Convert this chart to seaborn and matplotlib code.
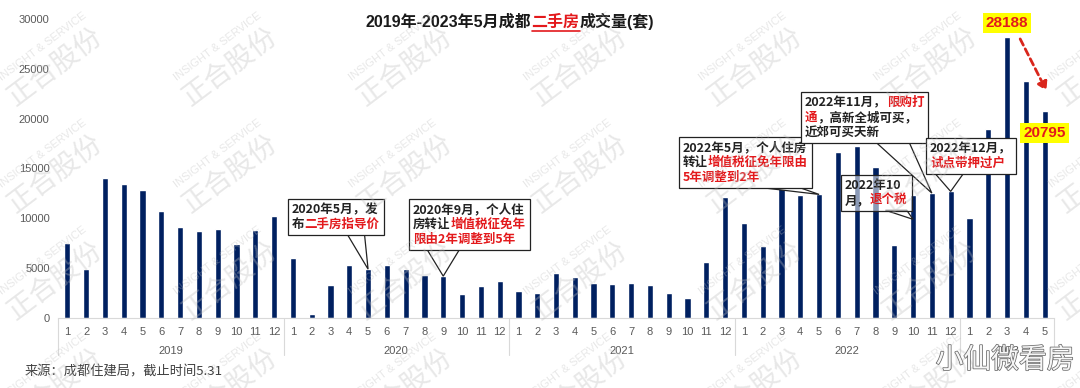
import seaborn as sns
import pandas as pd
import matplotlib.pyplot as plt
from matplotlib.lines import Line2D
from matplotlib.patches import Polygon
from matplotlib.transforms import IdentityTransform
from matplotlib.offsetbox import TextArea, HPacker, VPacker, AnnotationBbox
import matplotlib.patheffects as pe

# monthly second-hand housing transactions in Chengdu (sets)
years = ["2019", "2020", "2021", "2022", "2023"]
vol_2019 = [7500, 4950, 14050, 13400, 12870, 10700, 9100, 8700, 8970, 7470, 8870, 10270]
vol_2020 = [6070, 430, 3270, 5300, 4900, 5270, 4870, 4270, 4200, 2430, 3200, 3670]
vol_2021 = [2730, 2470, 4470, 4100, 3470, 3400, 3470, 3330, 2530, 2030, 5600, 12150]
vol_2022 = [9570, 7230, 13800, 12330, 12400, 16630, 17230, 15130, 7330, 12370, 12530, 12700]
vol_2023 = [10070, 18970, 28188, 23730, 20795]
volumes = [vol_2019, vol_2020, vol_2021, vol_2022, vol_2023]

rows = []
for year, vals in zip(years, volumes):
    for m, v in enumerate(vals, start=1):
        rows.append({"key": f"{year}-{m}", "year": year, "month": str(m), "vol": v})
df = pd.DataFrame(rows)

NAVY = "#002060"
RED = "#e3191c"
GREY = "#595959"
K = "#222222"

sns.set_style("white")
plt.rcParams["font.family"] = ["Liberation Sans", "Noto Sans CJK SC", "DejaVu Sans"]
CJK = ["Noto Sans CJK SC", "DejaVu Sans"]

W, H = 1080, 388
fig = plt.figure(figsize=(W / 100, H / 100), dpi=100)
ax = fig.add_axes([58 / W, 70 / H, 996 / W, 299 / H])

sns.barplot(data=df, x="key", y="vol", color=NAVY, saturation=1, width=0.33, ax=ax)

ax.set_ylim(0, 30000)
ax.set_xlim(-0.5, len(df) - 0.5)
ax.set_yticks(range(0, 30001, 5000))
ax.set_xticks(range(len(df)))
ax.set_xticklabels(df["month"])
ax.tick_params(axis="both", length=0, labelsize=8, labelcolor=GREY)
ax.tick_params(axis="x", pad=6.5)
ax.tick_params(axis="y", pad=6)
ax.set_xlabel("")
ax.set_ylabel("")
sns.despine(ax=ax, left=True)
ax.spines["bottom"].set_color("#d9d9d9")

# year level of the category axis
start = 0
for year, vals in zip(years, volumes):
    end = start + len(vals)
    ax.annotate(year, xy=((start + end - 1) / 2, 0), xycoords=("data", "axes fraction"),
                xytext=(0, -23.5), textcoords="offset points", ha="center", va="center",
                fontsize=8, color=GREY)
    start = end
bounds = [-0.5]
for vals in volumes:
    bounds.append(bounds[-1] + len(vals))
for b in bounds:
    ax.plot([b, b], [0, -0.124], transform=ax.get_xaxis_transform(), color="#d9d9d9",
            lw=0.8, clip_on=False)


callouts = []


def callout(lines, idx, val, left, top, base, alpha=1.0):
    packs = []
    for line in lines:
        parts = [TextArea(t, textprops=dict(color=c, fontsize=9, fontweight="bold",
                                            family=CJK)) for t, c in line]
        packs.append(HPacker(children=parts, sep=0, pad=0, align="baseline"))
    box = VPacker(children=packs, sep=1.5, pad=0, align="left")
    ab = AnnotationBbox(box, (idx, val), xycoords="data", xybox=(left, H - top),
                        boxcoords="figure pixels", box_alignment=(0, 1), pad=0.3,
                        bboxprops=dict(fc=(1, 1, 1, alpha), ec=K, lw=0.9))
    ab.set_zorder(5)
    ax.add_artist(ab)
    callouts.append((ab, idx, val, base, alpha))


callout([[("2020年5月，发", K)], [("布", K), ("二手房指导价", RED)]],
        16, vol_2020[4], 292, 203, (0.62, 0.8))
callout([[("2020年9月，个人住", K)], [("房转让", K), ("增值税征免年", RED)],
         [("限由2年调整到5年", RED)]],
        20, vol_2020[8], 413, 203, (0.15, 0.42))
callout([[("2022年5月，个人住房", K)], [("转让", K), ("增值税征免年限由", RED)],
         [("5年调整到2年", RED)]],
        40, vol_2022[4], 683, 141, (0.6, 0.9))
callout([[("2022年11月，", K), ("限购打", RED)], [("通", RED), ("，高新全城可买，", K)],
         [("近郊可买天新", K)]],
        46, vol_2022[10], 805, 96, (0.59, 0.85))
callout([[("2022年12月，", K)], [("试点带押过户", RED)]],
        47, vol_2022[11], 930, 142, (0.1, 0.42))
callout([[("2022年10", K)], [("月，", K), ("退个税", RED)]],
        45, 9900, 845, 179, (0.63, 0.93), alpha=0.55)

# highlighted values
ax.annotate(f"{vol_2023[2]}", xy=(50, vol_2023[2]), xytext=(0, 10), textcoords="offset points",
            ha="center", va="center", fontsize=11, fontweight="bold", color=RED,
            bbox=dict(boxstyle="square,pad=0.2", fc="#ffff00", ec="none"), zorder=6)
ax.annotate(f"{vol_2023[4]}", xy=(52, vol_2023[4]), xytext=(0, -16), textcoords="offset points",
            ha="center", va="center", fontsize=11, fontweight="bold", color=RED,
            bbox=dict(boxstyle="square,pad=0.2", fc="#ffff00", ec="none"), zorder=6)
ax.annotate("", xy=(52.1, 22800), xytext=(50.7, 28000),
            arrowprops=dict(arrowstyle="-|>,head_length=0.5,head_width=0.3", color="#d9261c",
                            lw=2, linestyle=(0, (2.5, 1.5)), shrinkA=0, shrinkB=0),
            zorder=6)

# title with red underlined part
title_parts = [("2019年-2023年5月成都", "#1a1a1a"), ("二手房", RED), ("成交量(套)", "#1a1a1a")]
areas = [TextArea(t, textprops=dict(color=c, fontsize=11.5, fontweight="bold",
                                    family=["Liberation Sans", "Noto Sans CJK SC"]))
         for t, c in title_parts]
title = AnnotationBbox(HPacker(children=areas, sep=0, pad=0, align="baseline"),
                       (510 / W, 1 - 21 / H), xycoords="figure fraction", frameon=False,
                       box_alignment=(0.5, 0.5))
fig.add_artist(title)

fig.text(25 / W, 1 - 372 / H, "来源：成都住建局，截止时间5.31", fontsize=9.5, color="#3f3f3f",
         va="center", ha="left", family=CJK)

# watermarks
for j in range(4):
    for i in range(7):
        cx, cy = 55 + 175 * i, 66 + 107 * j
        fig.text(cx / W, 1 - cy / H, "正合股份", rotation=37, rotation_mode="anchor",
                 ha="center", va="center", fontsize=20, color="#bdbdbd", alpha=0.35,
                 family=CJK, zorder=10)
        fig.text((cx - 12) / W, 1 - (cy - 19) / H, "INSIGHT & SERVICE", rotation=37,
                 rotation_mode="anchor", ha="center", va="center", fontsize=8,
                 color="#bdbdbd", alpha=0.35, zorder=10)
fig.text(1005 / W, 1 - 360 / H, "小仙微看房", ha="center", va="center", fontsize=20,
         color="#f6f6f6", family=CJK, zorder=11,
         path_effects=[pe.withStroke(linewidth=1.1, foreground="#6a6a6a")])

fig.canvas.draw()
renderer = fig.canvas.get_renderer()

# speech-bubble pointers from each callout box to its bar
for ab, idx, val, (f0, f1), alpha in callouts:
    bb = ab.patch.get_window_extent(renderer)
    tip = ax.transData.transform((idx, val))
    y0 = bb.y0 + 1
    pts = [(bb.x0 + f0 * bb.width, y0), tuple(tip), (bb.x0 + f1 * bb.width, y0)]
    ax.add_patch(Polygon(pts, closed=True, fc=(1, 1, 1, alpha), ec=K, lw=0.9,
                         transform=IdentityTransform(), clip_on=False, zorder=4.5))

bb = areas[1].get_window_extent(renderer)
fig.add_artist(Line2D([bb.x0 / W, bb.x1 / W], [(bb.y0 - 1) / H, (bb.y0 - 1) / H],
                      color=RED, lw=1.2))

fig.savefig("out.png", dpi=100)
